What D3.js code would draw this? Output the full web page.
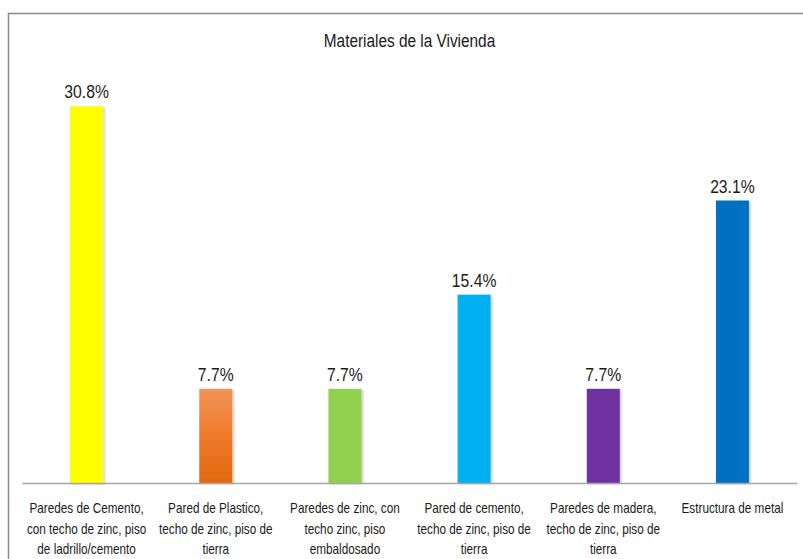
<!DOCTYPE html>
<html>
<head>
<meta charset="utf-8">
<script src="https://cdn.jsdelivr.net/npm/d3@7"></script>
<style>
  body { margin: 0; background: #fff; }
  text { font-family: "Liberation Sans", Arial, sans-serif; fill: #1a1a1a; }
</style>
</head>
<body>
<svg id="chart" width="803" height="559"></svg>
<script>
// data
const categories = [
  "Paredes de Cemento, con techo de zinc, piso de ladrillo/cemento",
  "Pared de Plastico, techo de zinc, piso de tierra",
  "Paredes de zinc, con techo zinc, piso embaldosado",
  "Pared de cemento, techo de zinc, piso de tierra",
  "Paredes de madera, techo de zinc, piso de tierra",
  "Estructura de metal"
];
const tickLines = [
  ["Paredes de Cemento,", "con techo de zinc, piso", "de ladrillo/cemento"],
  ["Pared de Plastico,", "techo de zinc, piso de", "tierra"],
  ["Paredes de zinc, con", "techo zinc, piso", "embaldosado"],
  ["Pared de cemento,", "techo de zinc, piso de", "tierra"],
  ["Paredes de madera,", "techo de zinc, piso de", "tierra"],
  ["Estructura de metal"]
];
const values = [30.8, 7.7, 7.7, 15.4, 7.7, 23.1];
const colors = ["#FFFF00", "url(#orangeGrad)", "#92D050", "#00B0F0", "#7030A0", "#0070C0"];
const title = "Materiales de la Vivienda";

const svg = d3.select("#chart");
const plotLeft = 22, plotRight = 797, plotTop = 55, plotBottom = 483;

// frame of the chart area
svg.append("path")
  .attr("d", "M8.5,560 L8.5,13.5 L810,13.5")
  .attr("fill", "none")
  .attr("stroke", "#8c8c8c")
  .attr("stroke-width", 1.5);

const defs = svg.append("defs");
const grad = defs.append("linearGradient")
  .attr("id", "orangeGrad").attr("x1", 0).attr("y1", 0).attr("x2", 0).attr("y2", 1);
grad.append("stop").attr("offset", "0%").attr("stop-color", "#F29358");
grad.append("stop").attr("offset", "50%").attr("stop-color", "#EF7A2A");
grad.append("stop").attr("offset", "100%").attr("stop-color", "#E3670E");

const shadow = defs.append("filter").attr("id", "shadow")
  .attr("x", "-20%").attr("y", "-5%").attr("width", "150%").attr("height", "115%");
shadow.append("feDropShadow")
  .attr("dx", 1.5).attr("dy", 1).attr("stdDeviation", 1)
  .attr("flood-color", "#000").attr("flood-opacity", 0.25);

const x = d3.scaleBand()
  .domain(categories)
  .range([plotLeft, plotRight])
  .paddingInner(0.745)
  .paddingOuter(0.3725);

const y = d3.scaleLinear()
  .domain([0, 35])
  .range([plotBottom, plotTop]);

// narrow text: no condensed font installed, so squeeze horizontally
const squeeze = (cx, cy, s) => "translate(" + cx + "," + cy + ") scale(" + s + ",1)";

// title
svg.append("text")
  .attr("transform", squeeze((plotLeft + plotRight) / 2, 47, 0.81))
  .attr("text-anchor", "middle")
  .style("font-size", "19px")
  .text(title);

// bars
svg.append("g").selectAll("rect")
  .data(values)
  .enter()
  .append("rect")
  .attr("x", (d, i) => x(categories[i]))
  .attr("y", d => y(d))
  .attr("width", x.bandwidth())
  .attr("height", d => plotBottom - y(d))
  .attr("fill", (d, i) => colors[i])
  .attr("filter", "url(#shadow)");

// value labels
svg.append("g").selectAll("text")
  .data(values)
  .enter()
  .append("text")
  .attr("transform", (d, i) => squeeze(x(categories[i]) + x.bandwidth() / 2, y(d) - 8, 0.85))
  .attr("text-anchor", "middle")
  .style("font-size", "18.5px")
  .text(d => d.toFixed(1) + "%");

// x axis
const axis = svg.append("g")
  .attr("transform", "translate(0," + plotBottom + ")")
  .call(d3.axisBottom(x).tickSize(0).tickFormat(""));
axis.select(".domain").attr("stroke", "#a6a6a6").attr("stroke-width", 1.5);

// category labels
const labels = svg.append("g").selectAll("text")
  .data(categories)
  .enter()
  .append("text")
  .attr("text-anchor", "middle")
  .attr("transform", d => squeeze(x(d) + x.bandwidth() / 2, 513, 0.84))
  .style("font-size", "14px");
labels.each(function(d, i) {
  const t = d3.select(this);
  tickLines[i].forEach((line, j) => {
    t.append("tspan")
      .attr("x", 0)
      .attr("dy", j === 0 ? 0 : 20.7)
      .text(line);
  });
});
</script>
</body>
</html>
